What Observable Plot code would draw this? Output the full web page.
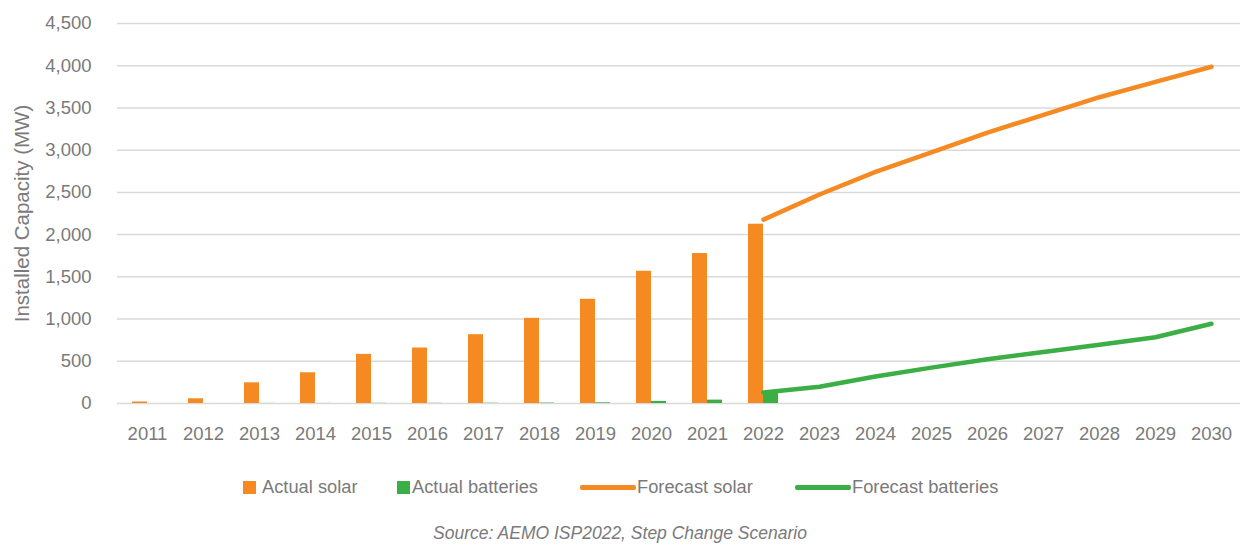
<!DOCTYPE html>
<html>
<head>
<meta charset="utf-8">
<script src="https://cdn.jsdelivr.net/npm/d3@7"></script>
<script src="https://cdn.jsdelivr.net/npm/@observablehq/plot@0.6"></script>
<style>
  html, body { margin: 0; padding: 0; background: #fff; }
  #wrap { position: relative; width: 1240px; height: 545px; overflow: hidden; }
  #chart svg { display: block; font-family: "Liberation Sans", sans-serif; }
  #chart svg [aria-label="y-axis label"] text { font-family: "Liberation Sans", sans-serif; font-size: 20.5px; }
  #legend { position: absolute; left: 0; top: 455px; width: 1240px; height: 64px;
    font-family: "Liberation Sans", sans-serif; font-size: 18.3px; color: #7a7a7a; }
  .item { position: absolute; top: 0; height: 64px; display: flex; align-items: center; white-space: nowrap; }
  .sw-box { width: 13px; height: 13px; margin-right: 6px; }
  .sw-line { width: 56px; height: 5px; border-radius: 2px; margin-right: 1px; }
  #caption { position: absolute; left: 0; top: 521px; width: 1240px; text-align: center;
    font-family: "Liberation Sans", sans-serif; font-style: italic; font-size: 17.5px; color: #7a7a7a; line-height: 24px; }
</style>
</head>
<body>
<div id="wrap">
  <div id="chart"></div>
  <div id="legend"></div>
  <div id="caption"></div>
</div>
<script>
// ---- Data ----
const years = ["2011","2012","2013","2014","2015","2016","2017","2018","2019","2020","2021","2022","2023","2024","2025","2026","2027","2028","2029","2030"];
const actualYears = ["2011","2012","2013","2014","2015","2016","2017","2018","2019","2020","2021","2022"];
const actualSolar = [18, 56, 245, 364, 582, 657, 815, 1008, 1234, 1566, 1776, 2123];
const actualBatteries = [0, 0, 1, 1, 2, 2, 3, 5, 8, 25, 40, 120];
const forecastYears = ["2022","2023","2024","2025","2026","2027","2028","2029","2030"];
const forecastSolar = [2178, 2475, 2743, 2974, 3207, 3418, 3627, 3808, 3988];
const forecastBatteries = [131, 199, 320, 425, 525, 610, 695, 785, 945];
const yTicks = [0, 500, 1000, 1500, 2000, 2500, 3000, 3500, 4000, 4500];
const seriesNames = ["Actual solar", "Actual batteries", "Forecast solar", "Forecast batteries"];
const captionText = "Source: AEMO ISP2022, Step Change Scenario";
const yLabel = "Installed Capacity (MW)";

const ORANGE = "#F58A22";
const GREEN = "#3BAE45";
const TEXT = "#7a7a7a";

const actualTable = actualYears.map((y, i) => ({year: y, solar: actualSolar[i], batteries: actualBatteries[i]}));
const forecastTable = forecastYears.map((y, i) => ({year: y, solar: forecastSolar[i], batteries: forecastBatteries[i]}));

const chart = Plot.plot({
  width: 1240,
  height: 455,
  marginLeft: 117,
  marginRight: 0,
  marginTop: 23,
  marginBottom: 52,
  style: {fontSize: "18.5px", color: TEXT, background: "white"},
  x: {type: "band", domain: years, padding: 0, label: null},
  y: {domain: [0, 4500], label: null},
  marks: [
    Plot.gridY(yTicks, {stroke: "#d9d9d9", strokeOpacity: 1, strokeWidth: 1.5}),
    Plot.axisX({tickSize: 0, tickPadding: 23, label: null, fill: TEXT}),
    Plot.axisY(yTicks, {tickSize: 0, tickPadding: 26, tickFormat: d3.format(","), fill: TEXT,
      label: yLabel, labelAnchor: "center", labelArrow: "none", labelOffset: 103}),
    Plot.barY(actualTable, {x: "year", y: "solar", fill: ORANGE, insetLeft: 13, insetRight: 28}),
    Plot.barY(actualTable, {x: "year", y: "batteries", fill: GREEN, insetLeft: 28, insetRight: 13}),
    Plot.lineY(forecastTable, {x: "year", y: "solar", stroke: ORANGE, strokeWidth: 4.5}),
    Plot.lineY(forecastTable, {x: "year", y: "batteries", stroke: GREEN, strokeWidth: 4.5})
  ]
});
document.getElementById("chart").appendChild(chart);

// ---- Legend ----
const legend = document.getElementById("legend");
const legendItems = [
  {name: seriesNames[0], kind: "box", color: ORANGE, left: 243},
  {name: seriesNames[1], kind: "box", color: GREEN, left: 397},
  {name: seriesNames[2], kind: "line", color: ORANGE, left: 580},
  {name: seriesNames[3], kind: "line", color: GREEN, left: 795}
];
for (const it of legendItems) {
  const d = document.createElement("div");
  d.className = "item";
  d.style.left = it.left + "px";
  const sw = document.createElement("span");
  sw.className = it.kind === "box" ? "sw-box" : "sw-line";
  sw.style.background = it.color;
  if (it.kind === "box" && it.color === GREEN) sw.style.marginRight = "2px";
  const t = document.createElement("span");
  t.textContent = it.name;
  d.appendChild(sw);
  d.appendChild(t);
  legend.appendChild(d);
}
document.getElementById("caption").textContent = captionText;
</script>
</body>
</html>
